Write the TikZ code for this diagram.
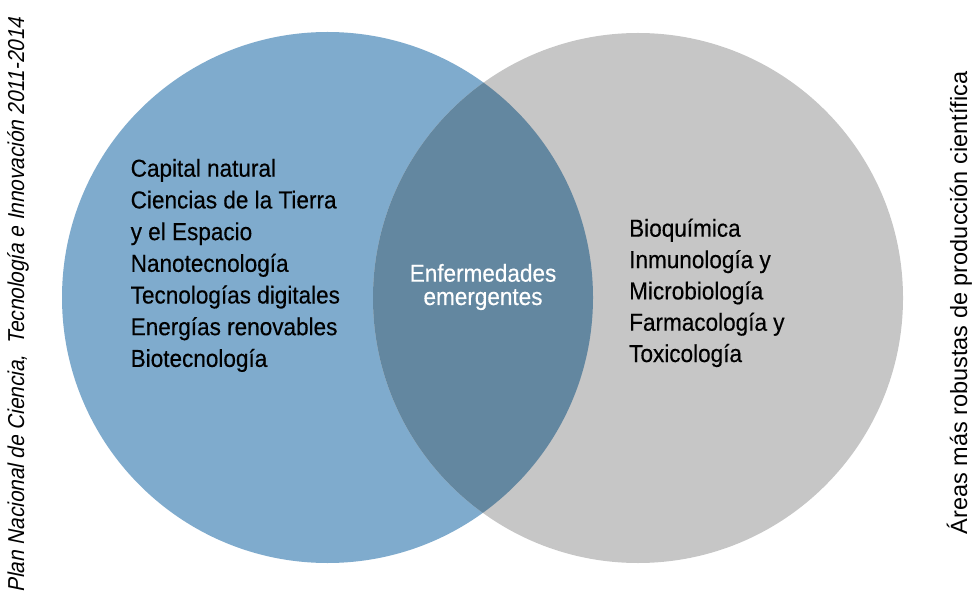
\documentclass[tikz,border=0pt]{standalone}
\usepackage{fontspec}
\setmainfont{Liberation Sans}
\newfontfamily\condfont[FakeStretch=0.92,FakeBold=0.4]{Liberation Sans}
\newfontfamily\condital[FakeStretch=0.9,FakeSlant=0.2]{Liberation Sans}
\definecolor{leftblue}{HTML}{7FABCD}
\definecolor{rightgray}{HTML}{C6C6C6}
\definecolor{overlap}{HTML}{6387A0}
\begin{document}
\begin{tikzpicture}[x=1pt,y=-1pt,
  item/.style={anchor=base west,inner sep=0pt,font=\condfont\fontsize{24.5}{28}\selectfont,text=black},
  mid/.style={anchor=base,inner sep=0pt,font=\condfont\fontsize{24.5}{28}\selectfont,text=white},
  side/.style={anchor=base,inner sep=0pt,rotate=90,text=black}]
\useasboundingbox (0,0) rectangle (976,601);
% circles
\fill[leftblue] (327.5,297.5) circle (265.5);
\fill[rightgray] (638,298) circle (265);
\begin{scope}
  \clip (327.5,297.5) circle (265.5);
  \fill[overlap] (638,298) circle (265);
\end{scope}
% left texts
\node[item] (l1) at (130.5,176.7) {Capital natural};
\node[item] (l2) at (130.5,208.4) {Ciencias de la Tierra};
\node[item] (l3) at (130.5,240.1) {y el Espacio};
\node[item] (l4) at (130.5,271.8) {Nanotecnología};
\node[item] (l5) at (130.5,303.5) {Tecnologías digitales};
\node[item] (l6) at (130.5,335.2) {Energías renovables};
\node[item] (l7) at (130.5,366.9) {Biotecnología};
% centre
\node[mid] (c1) at (483,281.7) {Enfermedades};
\node[mid] (c2) at (483,305) {emergentes};
% right texts
\node[item] (r1) at (629,236.7) {Bioquímica};
\node[item] (r2) at (629,268.1) {Inmunología y};
\node[item] (r3) at (629,299.4) {Microbiología};
\node[item] (r4) at (629,330.7) {Farmacología y};
\node[item] (r5) at (629,362) {Toxicología};
% side titles
\node[side,font=\condital\fontsize{23}{26}\selectfont] (lt) at (24,305) {Plan Nacional de Ciencia,\ \ Tecnología e Innovación 2011-2014};
\node[side,font=\fontsize{23.5}{26}\selectfont] (rt) at (967,303) {Áreas más robustas de producción científica};
\end{tikzpicture}
\end{document}
